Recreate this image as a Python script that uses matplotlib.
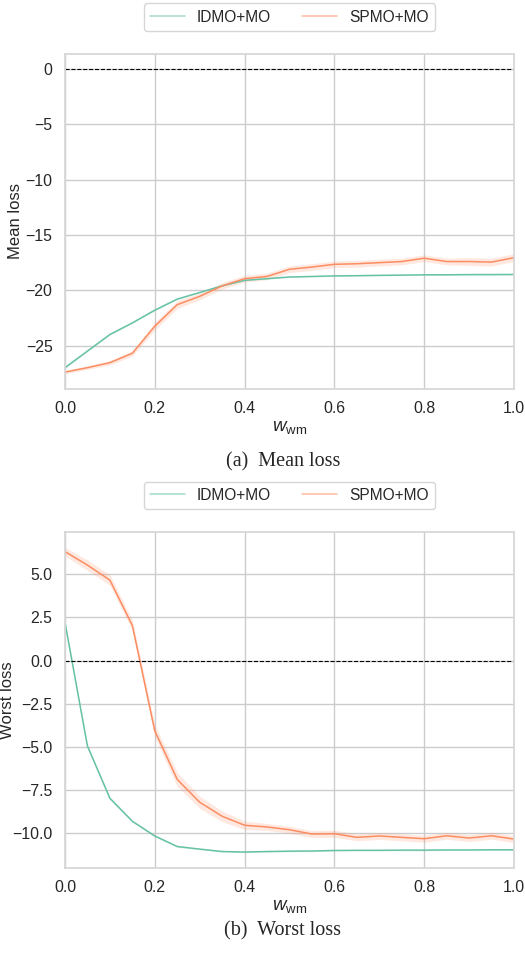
import numpy as np
import matplotlib.pyplot as plt
import seaborn as sns

sns.set_theme(style='whitegrid')
plt.rcParams['font.family'] = ['Liberation Sans', 'DejaVu Sans']
plt.rcParams['mathtext.fontset'] = 'custom'
plt.rcParams['mathtext.it'] = 'Liberation Sans:italic'
plt.rcParams['mathtext.rm'] = 'Liberation Sans'

# pesi w_wm
w = [0.0, 0.05, 0.1, 0.15, 0.2, 0.25, 0.3, 0.35, 0.4, 0.45, 0.5,
     0.55, 0.6, 0.65, 0.7, 0.75, 0.8, 0.85, 0.9, 0.95, 1.0]

# mean loss
mean_idmo = [-27.0, -25.5, -24.0, -22.95, -21.8, -20.8, -20.2, -19.6, -19.1, -18.95, -18.8,
             -18.75, -18.7, -18.68, -18.65, -18.63, -18.6, -18.6, -18.58, -18.58, -18.57]
mean_spmo = [-27.4, -27.0, -26.55, -25.7, -23.25, -21.3, -20.55, -19.6, -18.95, -18.75, -18.1,
             -17.9, -17.65, -17.6, -17.5, -17.4, -17.1, -17.4, -17.4, -17.45, -17.05]
mean_idmo_ci = [0.08, 0.06, 0.05, 0.05, 0.05, 0.05, 0.04, 0.04, 0.04, 0.04, 0.04,
                0.04, 0.04, 0.04, 0.04, 0.04, 0.04, 0.04, 0.04, 0.04, 0.04]
mean_spmo_ci = [0.15, 0.15, 0.2, 0.25, 0.35, 0.35, 0.3, 0.3, 0.3, 0.3, 0.3,
                0.3, 0.3, 0.3, 0.3, 0.3, 0.3, 0.3, 0.35, 0.35, 0.35]

# worst loss
worst_idmo = [2.2, -4.95, -7.97, -9.3, -10.15, -10.76, -10.91, -11.05, -11.08, -11.05, -11.03,
              -11.02, -10.99, -10.98, -10.98, -10.97, -10.97, -10.96, -10.96, -10.95, -10.95]
worst_spmo = [6.3, 5.52, 4.65, 2.03, -4.07, -6.88, -8.2, -9.01, -9.53, -9.63, -9.79,
              -10.04, -10.02, -10.23, -10.15, -10.23, -10.31, -10.14, -10.27, -10.14, -10.33]
worst_idmo_ci = [0.1, 0.1, 0.08, 0.06, 0.05, 0.05, 0.04, 0.04, 0.04, 0.04, 0.04,
                 0.04, 0.04, 0.04, 0.04, 0.04, 0.04, 0.04, 0.04, 0.04, 0.04]
worst_spmo_ci = [0.25, 0.3, 0.3, 0.3, 0.35, 0.4, 0.35, 0.3, 0.25, 0.2, 0.2,
                 0.2, 0.2, 0.2, 0.2, 0.2, 0.2, 0.2, 0.2, 0.2, 0.2]

verde = '#66c2a5'
arancio = '#fc8d62'

fig = plt.figure(figsize=(5.25, 9.55), dpi=100)
ax1 = fig.add_axes([0.1238, 0.5927, 0.8552, 0.3508])
ax2 = fig.add_axes([0.1238, 0.0911, 0.8552, 0.3518])

x = np.array(w)
pannelli = [
    (ax1, mean_idmo, mean_idmo_ci, mean_spmo, mean_spmo_ci, 'Mean loss', '(a)  Mean loss', 1 - 462/955, -0.0935),
    (ax2, worst_idmo, worst_idmo_ci, worst_spmo, worst_spmo_ci, 'Worst loss', '(b)  Worst loss', 1 - 931/955, -0.112),
]

for ax, yi, ci_i, ys, ci_s, ylab, didascalia, ycap, xlab in pannelli:
    yi = np.array(yi); ys = np.array(ys)
    ax.fill_between(x, yi - np.array(ci_i), yi + np.array(ci_i), color=verde, alpha=0.2, lw=0)
    ax.fill_between(x, ys - np.array(ci_s), ys + np.array(ci_s), color=arancio, alpha=0.2, lw=0)
    ax.plot(x, yi, color=verde, lw=1.1, label='IDMO+MO')
    ax.plot(x, ys, color=arancio, lw=1.1, label='SPMO+MO')
    ax.axhline(0, color='black', ls='--', lw=0.8)
    ax.set_xlim(0, 1)
    ax.set_ylabel(ylab, fontsize=12)
    ax.yaxis.set_label_coords(xlab, 0.5)
    ax.set_xlabel(r'$w_{\mathrm{wm}}$', fontsize=13.5, labelpad=2)
    ax.tick_params(labelsize=11.4, pad=3)
    for s in ax.spines.values():
        s.set_color('#d6d6d6')
    leg = ax.legend(loc='lower center', bbox_to_anchor=(0.5, 1.0687), ncol=2,
                    fontsize=11.2, frameon=True, columnspacing=2.0, handlelength=2.2,
                    borderpad=0.4, borderaxespad=0)
    for h in leg.get_lines():
        h.set_alpha(0.6)
    fig.text(0.539, ycap, didascalia, ha='center', va='center',
             family='Liberation Serif', fontsize=14.5)

ax1.set_yticks([0, -5, -10, -15, -20, -25])
ax2.set_yticks([5.0, 2.5, 0.0, -2.5, -5.0, -7.5, -10.0])
ax2.set_yticklabels(['5.0', '2.5', '0.0', '\u22122.5', '\u22125.0', '\u22127.5', '\u221210.0'])

fig.savefig('out.png', dpi=100)
